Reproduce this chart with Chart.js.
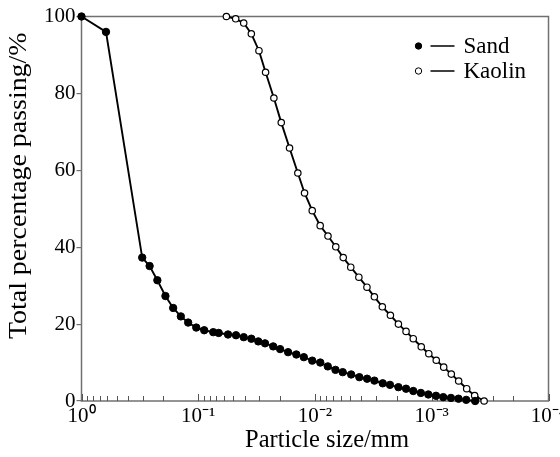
<!DOCTYPE html>
<html>
<head>
<meta charset="utf-8">
<script src="https://cdn.jsdelivr.net/npm/chart.js@4/dist/chart.umd.min.js"></script>
<style>
  html, body { margin: 0; padding: 0; background: #fff; }
  #wrap { width: 560px; height: 457px; position: relative; }
</style>
</head>
<body>
<div id="wrap"><canvas id="c" width="560" height="457"></canvas></div>
<script>
// ---- Data ----
const sandSize = [1.0, 0.617, 0.302, 0.261, 0.224, 0.191, 0.164, 0.141, 0.122, 0.104, 0.0889, 0.0744, 0.0668, 0.0556, 0.0475, 0.0408, 0.0351, 0.0306, 0.0268, 0.0228, 0.0199, 0.0170, 0.01445, 0.01246, 0.01056, 0.00901, 0.00777, 0.00668, 0.00579, 0.0049, 0.00417, 0.00358, 0.0031, 0.00263, 0.00228, 0.00193, 0.00166, 0.00144, 0.00124, 0.00107, 0.00092, 0.000797, 0.000685, 0.00059, 0.000507, 0.000425];
const sandPassing = [100, 96, 37.3, 35.1, 31.4, 27.3, 24.2, 22.0, 20.4, 19.1, 18.4, 17.9, 17.7, 17.3, 17.1, 16.6, 16.2, 15.5, 15.0, 14.2, 13.5, 12.7, 12.1, 11.4, 10.5, 10.0, 9.0, 8.1, 7.5, 6.9, 6.2, 5.8, 5.3, 4.6, 4.2, 3.6, 3.2, 2.6, 2.1, 1.7, 1.35, 1.0, 0.8, 0.6, 0.3, 0];

const kaolinSize = [0.0574, 0.0478, 0.0408, 0.0351, 0.0302, 0.0265, 0.0225, 0.01945, 0.01652, 0.01403, 0.01229, 0.01056, 0.00903, 0.00774, 0.00664, 0.00573, 0.00494, 0.00421, 0.00359, 0.0031, 0.00265, 0.00226, 0.00193, 0.00166, 0.00144, 0.00123, 0.00106, 0.000915, 0.00079, 0.00068, 0.000588, 0.000502, 0.000429, 0.000356];
const kaolinPassing = [100, 99.4, 98.3, 95.5, 91.1, 85.5, 78.8, 72.4, 65.8, 59.3, 54.1, 49.5, 45.6, 42.9, 40.1, 37.3, 34.8, 32.2, 29.6, 27.1, 24.5, 22.3, 20.0, 18.1, 16.2, 14.1, 12.3, 10.6, 8.8, 7.0, 5.2, 3.2, 1.4, 0];

const seriesNames = ['Sand', 'Kaolin'];
const xTickValues = [1, 0.1, 0.01, 0.001, 0.0001];
const xTickLabels = ['10\u2070', '10\u207B\u00B9', '10\u207B\u00B2', '10\u207B\u00B3', '10\u207B\u2074'];
const yTickValues = [0, 20, 40, 60, 80, 100];
const xTitle = 'Particle size/mm';
const yTitle = 'Total percentage passing/%';

const FONT = "'Liberation Serif', 'Times New Roman', serif";
const AXIS_GRAY = '#707070';

function toPoints(xs, ys) { return xs.map((x, i) => ({ x: x, y: ys[i] })); }

// shift / stretch an axis title along its axis (the reference titles are not centred)
function adjustTitle(scale, dx, dy, stretch) {
  if (scale._titlePatched) return;
  const orig = scale.drawTitle;
  scale.drawTitle = function () {
    const ctx = this.ctx;
    ctx.save();
    ctx.translate(dx, dy);
    if (stretch && stretch !== 1) {
      const cy = (this.top + this.bottom) / 2;
      ctx.translate(0, cy);
      ctx.scale(1, stretch);
      ctx.translate(0, -cy);
    }
    orig.apply(this, arguments);
    ctx.restore();
  };
  scale._titlePatched = true;
}

const framePlugin = {
  id: 'frame',
  beforeDatasetsDraw(chart) {
    const { ctx, chartArea: a, scales } = chart;
    const xs = scales.x;
    ctx.save();
    ctx.strokeStyle = AXIS_GRAY;
    ctx.lineWidth = 1.5;
    ctx.strokeRect(a.left, a.top, a.right - a.left, a.bottom - a.top);
    ctx.lineWidth = 1;
    ctx.strokeStyle = '#555';
    for (let n = 0; n >= -4; n--) {
      for (let k = 1; k <= 9; k++) {
        const v = k * Math.pow(10, n);
        if (v < xs.min - 1e-12 || v > xs.max + 1e-12) continue;
        const px = Math.round(xs.getPixelForValue(v)) + 0.5;
        const len = k === 1 ? 7 : 5;
        ctx.beginPath();
        ctx.moveTo(px, a.bottom);
        ctx.lineTo(px, a.bottom - len);
        ctx.stroke();
      }
    }
    ctx.restore();
  }
};

const legendPlugin = {
  id: 'customLegend',
  afterDraw(chart) {
    const { ctx, chartArea: a } = chart;
    ctx.save();
    const rows = [46, 71];
    chart.data.datasets.forEach((ds, i) => {
      const y = rows[i];
      const mx = a.right - 130;
      ctx.beginPath();
      ctx.arc(mx, y, 3.2, 0, Math.PI * 2);
      ctx.fillStyle = ds.pointBackgroundColor;
      ctx.fill();
      ctx.lineWidth = 1;
      ctx.strokeStyle = '#000';
      ctx.stroke();
      ctx.beginPath();
      ctx.moveTo(mx + 12, y);
      ctx.lineTo(mx + 36, y);
      ctx.lineWidth = 1.5;
      ctx.stroke();
      ctx.fillStyle = '#000';
      ctx.font = '23px ' + FONT;
      ctx.textBaseline = 'middle';
      ctx.textAlign = 'left';
      ctx.fillText(ds.label, mx + 45, y + 1);
    });
    ctx.restore();
  }
};

new Chart(document.getElementById('c'), {
  type: 'scatter',
  data: {
    datasets: [
      {
        label: seriesNames[0],
        data: toPoints(sandSize, sandPassing),
        showLine: true,
        borderColor: '#000',
        borderWidth: 1.9,
        pointRadius: 3.7,
        pointBackgroundColor: '#000',
        pointBorderColor: '#000',
        pointBorderWidth: 1,
        clip: false
      },
      {
        label: seriesNames[1],
        data: toPoints(kaolinSize, kaolinPassing),
        showLine: true,
        borderColor: '#000',
        borderWidth: 1.9,
        pointRadius: 3.2,
        pointBackgroundColor: '#fff',
        pointBorderColor: '#000',
        pointBorderWidth: 1.2,
        clip: false
      }
    ]
  },
  options: {
    responsive: false,
    animation: false,
    devicePixelRatio: 1,
    layout: { padding: { left: 0, right: 11.5, top: 16.5, bottom: 0 } },
    plugins: {
      legend: { display: false },
      tooltip: { enabled: false }
    },
    scales: {
      x: {
        type: 'logarithmic',
        reverse: true,
        min: 0.0001,
        max: 1,
        afterBuildTicks(scale) { scale.ticks = xTickValues.map(v => ({ value: v, major: true })); },
        afterFit(scale) {
          scale.height = 56; scale.paddingLeft = 0; scale.paddingRight = 0;
          adjustTitle(scale, 12, 0, 1);
        },
        ticks: {
          autoSkip: false,
          maxRotation: 0,
          padding: 3,
          color: '#000',
          font: { family: FONT, size: 21 },
          callback(value, index) { return xTickLabels[index]; }
        },
        grid: { display: false, drawTicks: false },
        border: { display: false },
        title: {
          display: true,
          text: xTitle,
          color: '#000',
          font: { family: FONT, size: 24.5 },
          padding: { top: 0, bottom: 2 }
        }
      },
      y: {
        min: 0,
        max: 100,
        afterBuildTicks(scale) { scale.ticks = yTickValues.map(v => ({ value: v })); },
        afterFit(scale) {
          scale.width = 81.5; scale.paddingTop = 0; scale.paddingBottom = 0;
          adjustTitle(scale, 0, -23, 1.14);
        },
        ticks: {
          padding: 1,
          color: '#000',
          font: { family: FONT, size: 21 }
        },
        grid: {
          drawOnChartArea: false,
          drawTicks: true,
          tickLength: 5,
          color: AXIS_GRAY,
          lineWidth: 1.2
        },
        border: { display: false },
        title: {
          display: true,
          text: yTitle,
          color: '#000',
          font: { family: FONT, size: 24.5 },
          padding: { top: 5, bottom: 0 }
        }
      }
    }
  },
  plugins: [framePlugin, legendPlugin]
});
</script>
</body>
</html>
